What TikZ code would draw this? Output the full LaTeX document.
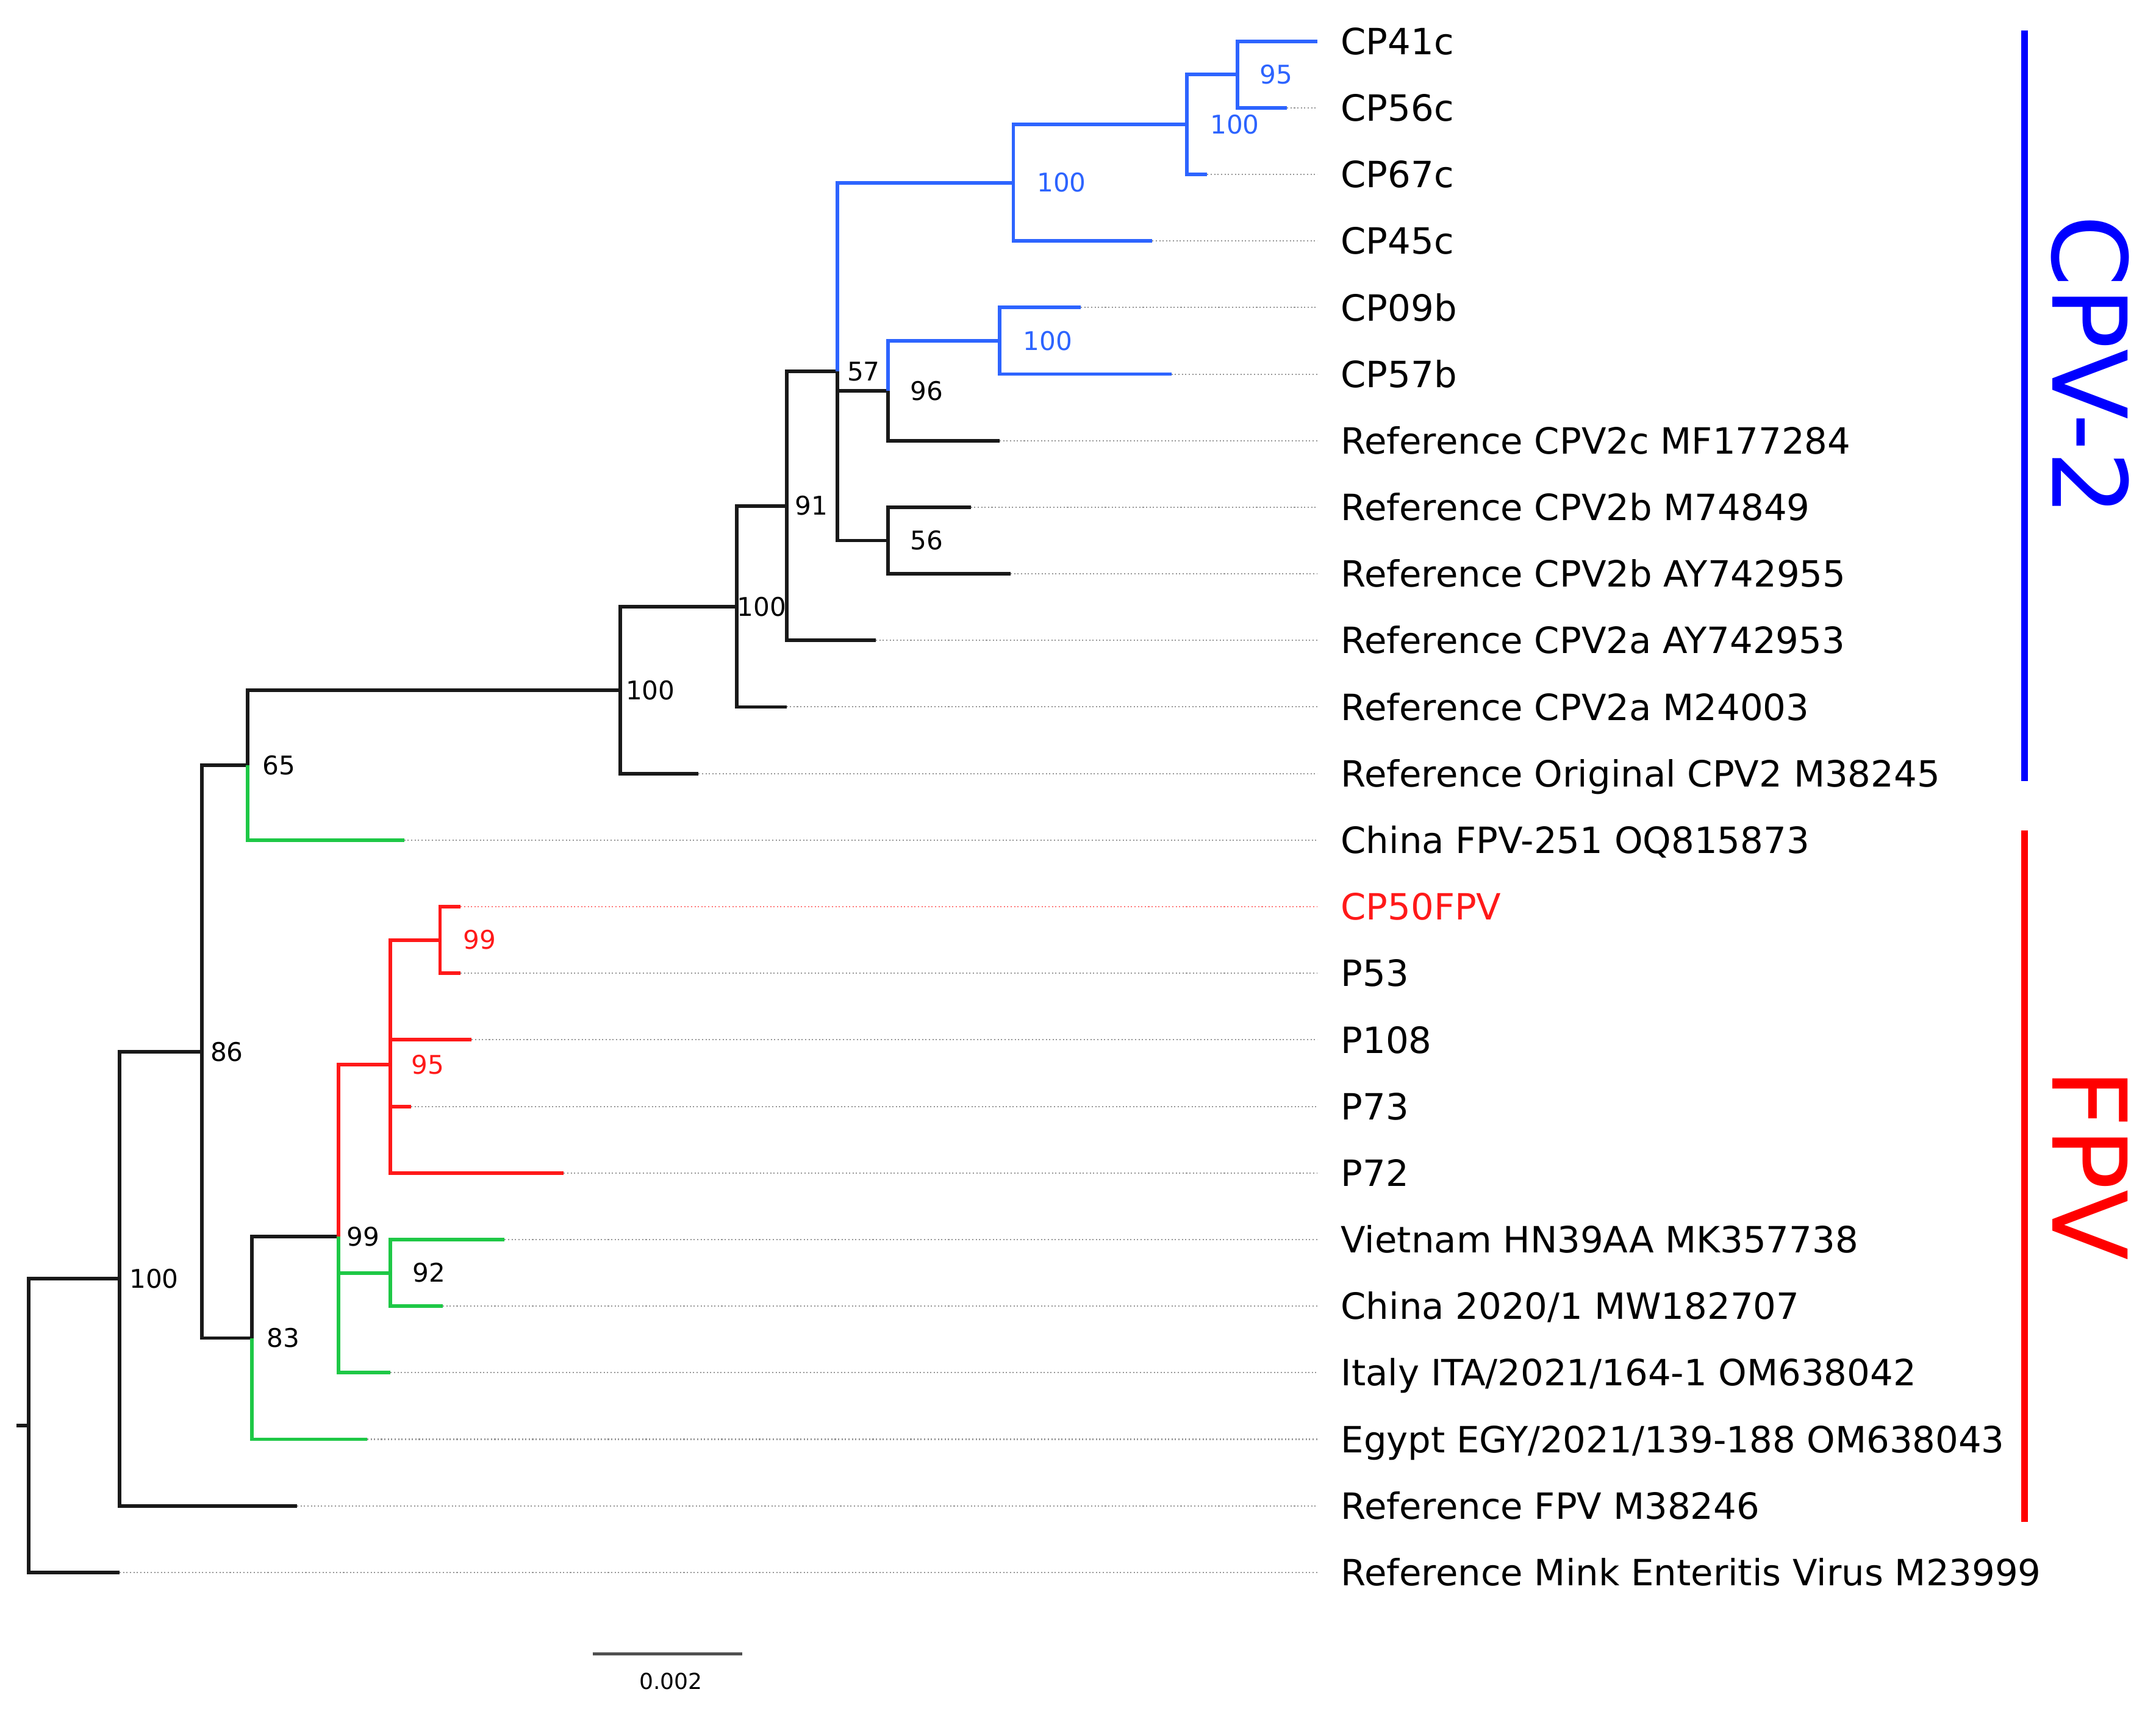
\documentclass[tikz,border=0pt]{standalone}
\usepackage{fontspec}
\setmainfont{DejaVu Sans}
\definecolor{brk}{RGB}{25,25,25}
\definecolor{brb}{RGB}{45,100,255}
\definecolor{brr}{RGB}{255,25,25}
\definecolor{brg}{RGB}{30,200,70}
\definecolor{ldr}{RGB}{150,150,150}
\definecolor{ldrr}{RGB}{255,120,120}
\definecolor{barb}{RGB}{0,0,255}
\definecolor{barr}{RGB}{255,0,0}
\definecolor{sbar}{RGB}{80,80,80}
\begin{document}
\begin{tikzpicture}[x=1pt,y=-1pt,
  br/.style={line width=2.6pt,line join=miter,draw=brk},
  bb/.style={br,draw=brb},
  bg/.style={br,draw=brg},
  brd/.style={br,draw=brr},
  leader/.style={draw=ldr,line width=0.9pt,dash pattern=on 0.9pt off 1.6pt},
  leaf/.style={anchor=base west,inner sep=0pt,font=\fontsize{26.3}{30}\selectfont,yshift=-9.6pt},
  bs/.style={anchor=base,inner sep=0pt,font=\fontsize{18.7}{20}\selectfont,yshift=-6.8pt},
  clade/.style={line width=5pt},
  cladetext/.style={rotate=-90,inner sep=0pt,font=\fontsize{75}{80}\selectfont}]
\useasboundingbox (0,0) rectangle (1568,1248.7);
% tips
\coordinate (t1) at (958,30);
\coordinate (t2) at (936,78.43);
\coordinate (t3) at (878,126.86);
\coordinate (t4) at (838,175.29);
\coordinate (t5) at (786,223.72);
\coordinate (t6) at (852,272.15);
\coordinate (t7) at (727,320.58);
\coordinate (t8) at (706,369.01);
\coordinate (t9) at (735,417.44);
\coordinate (t10) at (637,465.87);
\coordinate (t11) at (572,514.30);
\coordinate (t12) at (508,562.73);
\coordinate (t13) at (294,611.16);
\coordinate (t14) at (335,659.59);
\coordinate (t15) at (335,708.02);
\coordinate (t16) at (343,756.45);
\coordinate (t17) at (299,804.88);
\coordinate (t18) at (410,853.31);
\coordinate (t19) at (367,901.74);
\coordinate (t20) at (322,950.17);
\coordinate (t21) at (284,998.60);
\coordinate (t22) at (267,1047.03);
\coordinate (t23) at (216,1095.46);
\coordinate (t24) at (87,1143.89);
% internal nodes
\coordinate (n95) at (900,54.2);
\coordinate (n100a) at (863,90.5);
\coordinate (n100b) at (737,132.9);
\coordinate (n100c) at (727,247.9);
\coordinate (n96) at (646,284.2);
\coordinate (n56) at (646,393.2);
\coordinate (n57) at (609,270.1);
\coordinate (n91) at (572,368.0);
\coordinate (n100d) at (536,441.2);
\coordinate (n100e) at (451,502.0);
\coordinate (n65) at (180,556.6);
\coordinate (n99a) at (320,683.8);
\coordinate (n95b) at (284,774.6);
\coordinate (n92) at (284,926.0);
\coordinate (n99b) at (246,899.7);
\coordinate (n83) at (183,973.4);
\coordinate (n86) at (147,765.0);
\coordinate (n100f) at (87,930.2);
\coordinate (root) at (21,1037.0);
\coordinate (rstub) at (12,1037.0);
% labels
\node[leaf] (l1) at (975,30) {CP41c};
\node[leaf] (l2) at (975,78.43) {CP56c};
\node[leaf] (l3) at (975,126.86) {CP67c};
\node[leaf] (l4) at (975,175.29) {CP45c};
\node[leaf] (l5) at (975,223.72) {CP09b};
\node[leaf] (l6) at (975,272.15) {CP57b};
\node[leaf] (l7) at (975,320.58) {Reference CPV2c MF177284};
\node[leaf] (l8) at (975,369.01) {Reference CPV2b M74849};
\node[leaf] (l9) at (975,417.44) {Reference CPV2b AY742955};
\node[leaf] (l10) at (975,465.87) {Reference CPV2a AY742953};
\node[leaf] (l11) at (975,514.30) {Reference CPV2a M24003};
\node[leaf] (l12) at (975,562.73) {Reference Original CPV2 M38245};
\node[leaf] (l13) at (975,611.16) {China FPV-251 OQ815873};
\node[leaf,text=brr] (l14) at (975,659.59) {CP50FPV};
\node[leaf] (l15) at (975,708.02) {P53};
\node[leaf] (l16) at (975,756.45) {P108};
\node[leaf] (l17) at (975,804.88) {P73};
\node[leaf] (l18) at (975,853.31) {P72};
\node[leaf] (l19) at (975,901.74) {Vietnam HN39AA MK357738};
\node[leaf] (l20) at (975,950.17) {China 2020/1 MW182707};
\node[leaf] (l21) at (975,998.60) {Italy ITA/2021/164-1 OM638042};
\node[leaf] (l22) at (975,1047.03) {Egypt EGY/2021/139-188 OM638043};
\node[leaf] (l23) at (975,1095.46) {Reference FPV M38246};
\node[leaf] (l24) at (975,1143.89) {Reference Mink Enteritis Virus M23999};
% leaders
\foreach \i in {2,...,13,15,16,...,24}{
  \draw[leader,shorten >=17pt] (t\i) -- (t\i -| l\i.west);
}
\draw[leader,draw=ldrr,shorten >=17pt] (t14) -- (t14 -| l14.west);
% branches: black
\draw[br] (n57) |- (n96);
\draw[br] (n96) |- (t7);
\draw[br] (n57) |- (n56);
\draw[br] (n56) |- (t8);
\draw[br] (n56) |- (t9);
\draw[br] (n91) |- (n57);
\draw[br] (n91) |- (t10);
\draw[br] (n100d) |- (n91);
\draw[br] (n100d) |- (t11);
\draw[br] (n100e) |- (n100d);
\draw[br] (n100e) |- (t12);
\draw[br] (n65) |- (n100e);
\draw[br] (n86) |- (n65);
\draw[br] (n83) |- (n99b);
\draw[br] (n86) |- (n83);
\draw[br] (n100f) |- (n86);
\draw[br] (n100f) |- (t23);
\draw[br] (root) |- (n100f);
\draw[br] (root) |- (t24);
\draw[br] (root) -- (rstub);
% blue
\draw[bb] (n95) |- (t1);
\draw[bb] (n95) |- (t2);
\draw[bb] (n100a) |- (n95);
\draw[bb] (n100a) |- (t3);
\draw[bb] (n100b) |- (n100a);
\draw[bb] (n100b) |- (t4);
\draw[bb] (n57) |- (n100b);
\draw[bb] (n100c) |- (t5);
\draw[bb] (n100c) |- (t6);
\draw[bb] (n96) |- (n100c);
% red
\draw[brd] (n99a) |- (t14);
\draw[brd] (n99a) |- (t15);
\draw[brd] (n95b) |- (n99a);
\draw[brd] (n95b) |- (t16);
\draw[brd] (n95b) |- (t17);
\draw[brd] (n95b) |- (t18);
\draw[brd] (n99b) |- (n95b);
% green
\draw[bg] (n65) |- (t13);
\draw[bg] (n92) |- (t19);
\draw[bg] (n92) |- (t20);
\draw[bg] (n99b) |- (n92);
\draw[bg] (n99b) |- (t21);
\draw[bg] (n83) |- (t22);
% bootstrap values
\node[bs,text=brb] (b95) at (928,54.2) {95};
\node[bs,text=brb] (b100a) at (898,90.5) {100};
\node[bs,text=brb] (b100b) at (772,132.9) {100};
\node[bs,text=brb] (b100c) at (762,247.9) {100};
\node[bs] (b57) at (628,270.1) {57};
\node[bs] (b96) at (674,284.2) {96};
\node[bs] (b91) at (590,368.0) {91};
\node[bs] (b56) at (674,393.2) {56};
\node[bs] (b100d) at (554,441.2) {100};
\node[bs] (b100e) at (473,502.0) {100};
\node[bs] (b65) at (203,556.6) {65};
\node[bs,text=brr] (b99a) at (349,683.8) {99};
\node[bs,text=brr] (b95b) at (311,774.6) {95};
\node[bs] (b86) at (165,765.0) {86};
\node[bs] (b99b) at (264,899.7) {99};
\node[bs] (b92) at (312,926.0) {92};
\node[bs] (b83) at (206,973.4) {83};
\node[bs] (b100f) at (112,930.2) {100};
% scale bar
\coordinate (sb1) at (431,1203);
\coordinate (sb2) at (540,1203);
\draw[line width=2.2pt,draw=sbar] (sb1) -- (sb2);
\node[anchor=base,inner sep=0pt,font=\fontsize{16}{18}\selectfont,yshift=-5.8pt] (sbl) at (488,1223) {0.002};
% clade bars
\coordinate (cpvtop) at (1472.5,22);
\coordinate (cpvbot) at (1472.5,568);
\coordinate (fpvtop) at (1472.5,604);
\coordinate (fpvbot) at (1472.5,1107);
\draw[clade,draw=barb] (cpvtop) -- (cpvbot);
\draw[clade,draw=barr] (fpvtop) -- (fpvbot);
\node[cladetext,text=barb] (cpv) at (1520,266) {CPV-2};
\node[cladetext,text=barr] (fpv) at (1520,847) {FPV};
\end{tikzpicture}
\end{document}
